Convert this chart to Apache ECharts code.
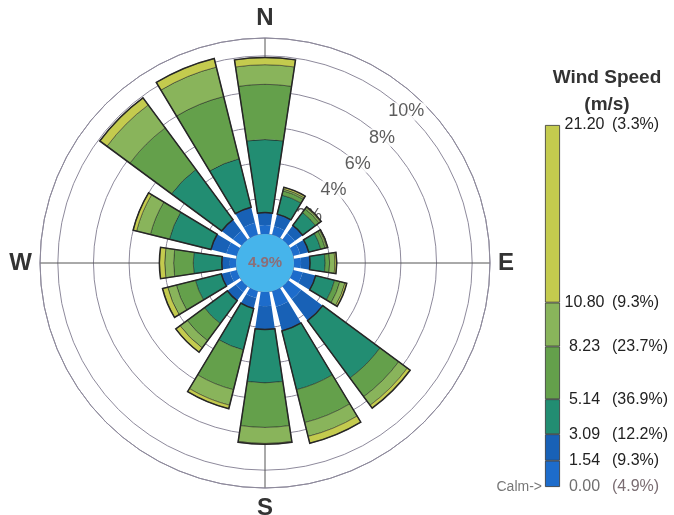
<!DOCTYPE html>
<html>
<head>
<meta charset="utf-8">
<script src="https://cdn.jsdelivr.net/npm/echarts@6/dist/echarts.min.js"></script>
<style>
  html, body { margin: 0; padding: 0; background: #ffffff; }
  #chart { width: 674px; height: 515px; }
</style>
</head>
<body>
<div id="chart"></div>
<script>
// Wind rose: frequency of wind (% of time) by direction and speed class
const directions = ['N', 'NNE', 'NE', 'ENE', 'E', 'ESE', 'SE', 'SSE', 'S', 'SSW', 'SW', 'WSW', 'W', 'WNW', 'NW', 'NNW'];
const calmPct = 4.9;

// one array per speed class (m/s), values in % of all observations
const speed000to154  = [0.5, 0.5, 0.45, 0.4, 0.4, 0.55, 0.9, 0.9, 0.8, 0.4, 0.4, 0.4, 0.35, 0.6, 0.6, 0.7];
const speed154to309  = [0.7, 0.7, 0.55, 0.5, 0.5, 0.75, 1.5, 1.4, 1.3, 0.6, 0.6, 0.5, 0.45, 0.9, 0.8, 0.9];
const speed309to514  = [4.1, 1.1, 0.9, 0.7, 0.85, 1.1, 4.0, 3.4, 3.0, 2.4, 1.6, 1.5, 1.6, 2.4, 3.5, 2.8];
const speed514to823  = [3.1, 0.25, 0.25, 0.25, 0.25, 0.3, 1.3, 1.9, 2.5, 2.3, 1.2, 1.1, 1.1, 1.1, 2.9, 3.6];
const speed823to1080 = [1.1, 0.1, 0.1, 0.1, 0.3, 0.3, 0.6, 0.8, 0.9, 0.9, 0.5, 0.5, 0.5, 0.8, 1.6, 1.7];
const speed1080to2120 = [0.4, 0.1, 0.05, 0.05, 0.1, 0.1, 0.2, 0.4, 0.05, 0.2, 0.3, 0.3, 0.3, 0.2, 0.5, 0.5];

// frequency rings
const ringTicks = [2, 4, 6, 8, 10];
const ringLabels = ['2%', '4%', '6%', '8%', '10%'];
const compassLabels = ['N', 'E', 'S', 'W'];

// speed scale (colour bar)
const speedTicks = [0, 1.54, 3.09, 5.14, 8.23, 10.80, 21.20];
const speedTickLabels = ['0.00', '1.54', '3.09', '5.14', '8.23', '10.80', '21.20'];
const classShares = ['4.9%', '9.3%', '12.2%', '36.9%', '23.7%', '9.3%', '3.3%'];

const FONT = '"Liberation Sans", Arial, Helvetica, sans-serif';
const classes = [speed000to154, speed154to309, speed309to514, speed514to823, speed823to1080, speed1080to2120];
const classColors = ['#1d6ccb', '#1861b6', '#228d72', '#64a04b', '#89b45b', '#c4cb4e'];

const center = [265, 263];
const radius = [29, 225];
const gap = '24%';

// stacked radial bars
const roseSeries = classes.map((data, i) => ({
  type: 'bar',
  coordinateSystem: 'polar',
  polarIndex: 0,
  stack: 'rose',
  data: data,
  barCategoryGap: gap,
  barGap: '-100%',
  silent: true,
  z: 2,
  itemStyle: {
    color: classColors[i],
    borderColor: i < 2 ? classColors[i] : 'rgba(30,30,30,0.6)',
    borderWidth: i < 2 ? 0 : 0.8
  }
}));

// dark outline around the part of each petal beyond the blue classes
const blueSum = directions.map((_, k) => speed000to154[k] + speed154to309[k]);
const outerSum = directions.map((_, k) => classes.slice(2).reduce((s, a) => s + a[k], 0));
const outlineSeries = [
  {
    type: 'bar', coordinateSystem: 'polar', polarIndex: 0, stack: 'outline',
    data: blueSum, barCategoryGap: gap, barGap: '-100%', silent: true, z: 3,
    itemStyle: { color: 'rgba(0,0,0,0)' }
  },
  {
    type: 'bar', coordinateSystem: 'polar', polarIndex: 0, stack: 'outline',
    data: outerSum, barCategoryGap: gap, barGap: '-100%', silent: true, z: 3,
    itemStyle: { color: 'rgba(0,0,0,0)', borderColor: '#262626', borderWidth: 1.5 }
  }
];

// colour-bar segments
const scaleSeries = speedTicks.slice(1).map((t, i) => ({
  type: 'bar',
  xAxisIndex: 0,
  yAxisIndex: 0,
  stack: 'scale',
  barWidth: '100%',
  silent: true,
  data: [+(t - speedTicks[i]).toFixed(2)],
  itemStyle: { color: classColors[i], borderColor: '#333', borderWidth: 0.8 }
}));

const option = {
  animation: false,
  backgroundColor: '#ffffff',
  textStyle: { fontFamily: FONT },
  title: {
    text: 'Wind Speed\n(m/s)',
    left: 602,
    top: 59,
    textAlign: 'center',
    textStyle: { fontFamily: FONT, fontSize: 19, fontWeight: 'bold', color: '#333', lineHeight: 27 }
  },
  polar: [
    { center: center, radius: radius },
    { center: center, radius: radius }
  ],
  angleAxis: [
    {
      polarIndex: 0, type: 'category', data: directions,
      startAngle: 90 + 360 / directions.length / 2, clockwise: true,
      axisLine: { show: false }, axisTick: { show: false },
      axisLabel: { show: false }, splitLine: { show: false }
    },
    {
      polarIndex: 1, type: 'value', min: 0, max: 360, interval: 90,
      startAngle: 90, clockwise: true,
      axisLine: { show: true, lineStyle: { color: '#8e8a9c', width: 1 } },
      axisTick: { show: false },
      splitLine: { show: true, lineStyle: { color: '#555', width: 1 } },
      axisLabel: {
        show: true, margin: 8,
        fontFamily: FONT, fontSize: 24, fontWeight: 'bold', color: '#333',
        formatter: v => (v < 360 ? compassLabels[v / 90] : '')
      }
    }
  ],
  radiusAxis: [
    {
      polarIndex: 0, type: 'value', min: 0, max: 11, interval: 2,
      axisLine: { show: false }, axisTick: { show: false }, axisLabel: { show: false },
      splitLine: { show: true, lineStyle: { color: '#8e8a9c', width: 1 } }
    },
    { polarIndex: 1, type: 'value', min: 0, max: 11, show: false }
  ],
  grid: { left: 545, top: 125, width: 15, height: 362 },
  xAxis: { type: 'category', data: [''], show: false },
  yAxis: [
    {
      type: 'value', min: 0, max: 21.2, position: 'right',
      axisLine: { show: false }, axisTick: { show: false }, splitLine: { show: false },
      axisLabel: {
        customValues: speedTicks,
        showMinLabel: true, showMaxLabel: true,
        margin: 4,
        formatter: v => {
          const i = speedTicks.findIndex(t => Math.abs(t - v) < 1e-6);
          if (i < 0) return '';
          return i === 0
            ? `{n0|${speedTickLabels[i]}}{p0|(${classShares[i]})}`
            : `{n|${speedTickLabels[i]}}{p|(${classShares[i]})}`;
        },
        rich: {
          n:  { fontFamily: FONT, fontSize: 16, color: '#222', width: 41, align: 'right' },
          p:  { fontFamily: FONT, fontSize: 16, color: '#222', padding: [0, 0, 0, 7] },
          n0: { fontFamily: FONT, fontSize: 16, color: '#6f6f6f', width: 41, align: 'right' },
          p0: { fontFamily: FONT, fontSize: 16, color: '#7a6d72', padding: [0, 0, 0, 7] }
        }
      }
    },
    {
      type: 'value', min: 0, max: 21.2, position: 'left',
      axisLine: { show: false }, axisTick: { show: false }, splitLine: { show: false },
      axisLabel: {
        customValues: [0], showMinLabel: true, margin: 3,
        fontFamily: FONT, fontSize: 14, color: '#777',
        formatter: () => 'Calm->'
      }
    }
  ],
  series: [
    ...roseSeries,
    ...outlineSeries,
    {
      type: 'scatter', coordinateSystem: 'polar', polarIndex: 1,
      data: ringTicks.map(r => [r, 43]),
      symbol: 'circle', symbolSize: 1, silent: true, z: 1,
      itemStyle: { color: 'rgba(0,0,0,0)' },
      label: {
        show: true, position: 'inside',
        formatter: p => ringLabels[p.dataIndex],
        fontFamily: FONT, fontSize: 18, color: '#333',
        backgroundColor: '#ffffff', padding: [0, 2]
      }
    },
    {
      type: 'pie', center: center, radius: [0, radius[0]],
      silent: true, z: 4, animation: false,
      label: {
        show: true, position: 'center',
        formatter: calmPct.toFixed(1) + '%',
        fontFamily: FONT, fontSize: 15, fontWeight: 'bold', color: '#8c6e77'
      },
      labelLine: { show: false },
      itemStyle: { color: '#46b4eb' },
      data: [{ value: calmPct, name: 'Calm' }]
    },
    ...scaleSeries
  ]
};

const chart = echarts.init(document.getElementById('chart'));
chart.setOption(option);
</script>
</body>
</html>
